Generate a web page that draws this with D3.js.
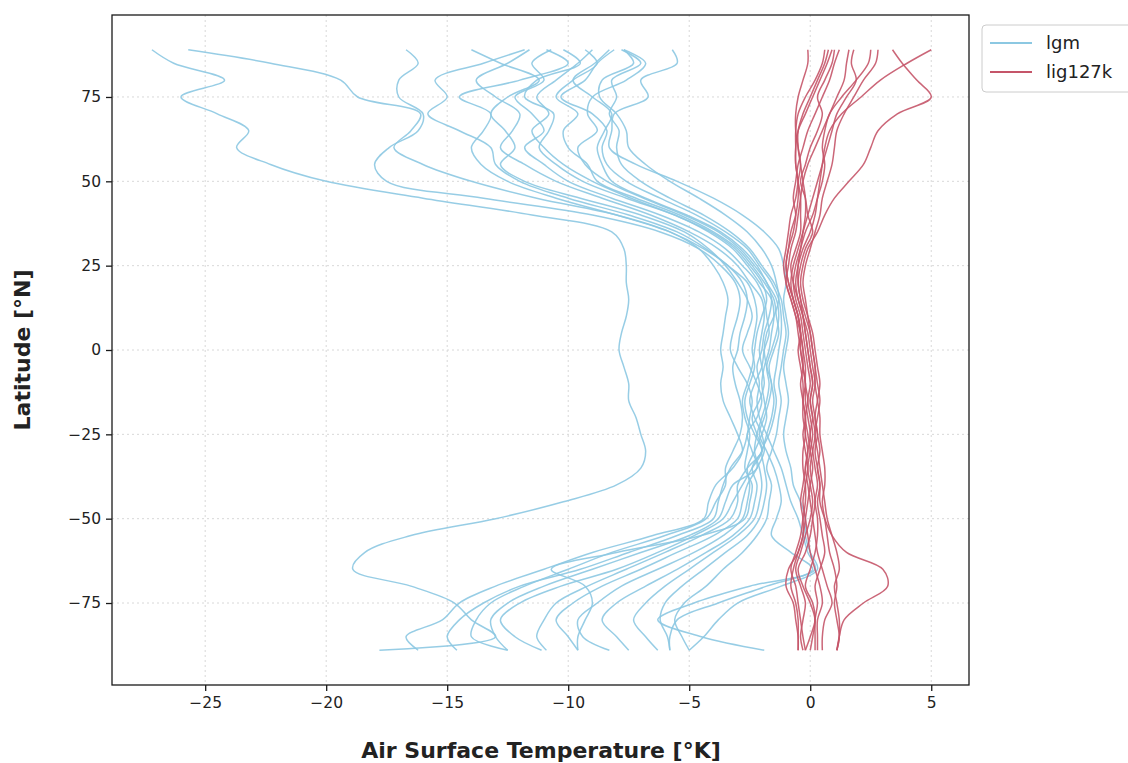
<!DOCTYPE html>
<html><head><meta charset="utf-8">
<script src="https://cdn.jsdelivr.net/npm/d3@7"></script>
<style>body{margin:0;background:#fff;} svg{display:block;font-family:"DejaVu Sans",sans-serif;}</style>
</head><body><svg id="chart" width="1128" height="763"></svg>
<script>
const latitudes = [89,85,80,75,70,65,60,55,50,45,40,35,30,25,20,15,10,5,0,-5,-10,-15,-20,-25,-30,-35,-40,-45,-50,-55,-60,-65,-70,-75,-80,-85,-89];

const lgm = [
 [-27.2,-26.3,-24.2,-26.0,-24.5,-23.2,-23.7,-22.3,-20.0,-16.0,-11.5,-8.2,-7.7,-7.6,-7.6,-7.5,-7.6,-7.8,-7.9,-7.7,-7.5,-7.5,-7.2,-7.0,-6.8,-7.0,-8.0,-10.2,-13.0,-16.5,-18.4,-18.9,-16.5,-14.7,-14.0,-13.0,-17.8],
 [-25.7,-22.3,-19.4,-18.7,-16.1,-16.5,-17.2,-16.0,-14.0,-11.3,-8.0,-5.8,-4.6,-4.0,-3.6,-3.4,-3.5,-3.6,-3.7,-3.6,-3.7,-3.6,-3.3,-3.0,-2.8,-3.2,-3.9,-4.2,-4.4,-6.5,-9.0,-11.0,-13.0,-14.5,-15.2,-16.7,-16.2],
 [-16.7,-16.2,-17.0,-17.0,-16.0,-16.2,-17.4,-18.0,-17.5,-13.5,-9.0,-6.2,-4.6,-3.7,-3.1,-2.9,-3.0,-3.2,-3.3,-3.0,-2.6,-2.4,-2.5,-2.6,-2.8,-3.3,-3.6,-3.8,-4.0,-5.5,-7.5,-9.5,-12.0,-13.5,-14.5,-15.0,-14.6],
 [-14.0,-12.8,-11.2,-12.5,-13.2,-12.6,-12.2,-12.8,-11.8,-9.5,-7.0,-5.2,-4.2,-3.5,-3.0,-2.6,-2.4,-2.6,-2.8,-2.5,-2.2,-2.0,-2.2,-2.6,-2.4,-2.2,-3.2,-3.5,-3.8,-5.0,-7.0,-9.0,-11.0,-12.5,-13.2,-13.0,-12.5],
 [-11.8,-13.5,-15.5,-15.0,-15.8,-14.5,-13.2,-13.0,-12.0,-10.0,-7.5,-5.5,-4.3,-3.4,-2.6,-2.3,-2.2,-2.3,-2.4,-2.3,-2.5,-2.7,-2.6,-2.3,-2.0,-2.4,-2.8,-3.2,-3.6,-4.8,-6.3,-8.0,-10.3,-12.0,-12.8,-12.2,-11.1],
 [-11.6,-12.5,-13.8,-13.0,-12.0,-12.3,-12.8,-11.8,-10.5,-8.6,-6.6,-5.0,-3.8,-3.0,-2.5,-2.0,-1.9,-2.0,-2.1,-2.0,-1.9,-2.1,-2.4,-2.2,-2.0,-2.6,-3.0,-3.0,-3.3,-4.5,-6.0,-7.6,-9.2,-10.5,-11.0,-11.3,-10.9],
 [-10.7,-11.5,-11.0,-12.2,-11.5,-11.0,-11.8,-11.0,-10.0,-8.2,-6.2,-4.6,-3.5,-2.8,-2.2,-1.9,-1.8,-1.7,-1.9,-2.0,-2.3,-2.5,-2.3,-2.0,-1.9,-2.2,-2.6,-2.8,-3.0,-4.0,-5.5,-7.0,-8.6,-9.8,-10.5,-10.0,-9.6],
 [-10.2,-9.5,-11.3,-11.8,-10.6,-10.8,-11.2,-10.5,-9.4,-7.6,-5.6,-4.2,-3.2,-2.6,-2.1,-1.6,-1.5,-1.6,-1.7,-1.9,-2.0,-1.9,-1.8,-2.0,-2.3,-2.6,-2.5,-2.6,-2.8,-3.6,-4.8,-6.3,-7.8,-8.8,-9.6,-9.4,-8.3],
 [-9.3,-8.8,-9.8,-10.5,-9.6,-10.2,-10.0,-9.2,-8.8,-7.2,-5.4,-4.0,-3.0,-2.4,-1.9,-1.5,-1.4,-1.3,-1.5,-1.7,-1.6,-1.5,-1.6,-1.8,-2.0,-2.4,-2.2,-2.3,-2.5,-3.2,-4.3,-5.5,-6.8,-8.0,-8.6,-8.0,-7.5],
 [-8.3,-8.9,-9.8,-9.0,-8.2,-8.5,-8.8,-8.6,-8.2,-6.8,-5.1,-3.7,-2.8,-2.2,-1.8,-1.4,-1.3,-1.4,-1.6,-1.8,-1.7,-1.8,-2.0,-2.2,-2.3,-2.1,-2.0,-2.1,-2.3,-3.0,-4.0,-5.0,-6.0,-6.8,-7.3,-6.8,-6.3],
 [-8.1,-8.8,-9.3,-10.3,-9.0,-8.4,-8.6,-8.4,-7.6,-6.2,-4.7,-3.5,-2.6,-2.1,-1.6,-1.3,-1.2,-1.2,-1.3,-1.4,-1.5,-1.4,-1.5,-1.7,-2.0,-1.9,-1.8,-1.9,-2.1,-2.6,-3.5,-4.4,-5.3,-6.0,-6.2,-5.9,-5.8],
 [-7.8,-7.0,-8.2,-8.0,-8.3,-7.9,-8.0,-7.8,-7.0,-5.8,-4.4,-3.3,-2.5,-2.0,-1.5,-1.2,-1.1,-1.0,-1.1,-1.2,-1.3,-1.2,-1.3,-1.4,-1.6,-1.8,-1.6,-1.7,-1.8,-2.2,-2.8,-3.6,-4.3,-5.2,-5.6,-5.3,-5.0],
 [-7.7,-6.8,-7.6,-9.0,-9.2,-8.8,-9.6,-9.3,-8.4,-6.9,-5.2,-3.8,-2.9,-2.3,-1.8,-1.6,-1.7,-1.9,-2.0,-2.2,-2.1,-2.2,-2.1,-1.8,-1.5,-1.2,-1.0,-0.8,-0.5,-0.3,-0.1,0.2,-2.5,-4.8,-6.3,-4.5,-1.9],
 [-5.7,-5.5,-7.0,-6.7,-8.1,-8.2,-8.3,-7.2,-5.5,-4.0,-2.8,-1.9,-1.3,-1.1,-1.0,-1.1,-1.0,-0.9,-1.0,-1.1,-1.0,-0.9,-1.0,-1.1,-1.0,-0.8,-0.7,-0.4,-0.2,-0.2,0.0,0.3,-1.2,-3.0,-3.8,-4.4,-5.0],
 [-10.9,-10.0,-12.0,-14.5,-13.2,-13.5,-14.0,-13.6,-12.5,-10.5,-8.0,-5.8,-4.4,-3.4,-2.8,-2.6,-2.7,-2.9,-3.0,-3.2,-3.1,-2.9,-2.8,-2.9,-3.2,-3.5,-3.5,-3.9,-4.3,-6.0,-8.2,-10.0,-11.8,-13.2,-13.8,-14.0,-12.5],
 [-9.0,-9.6,-10.5,-11.3,-10.8,-11.5,-11.0,-10.2,-9.0,-7.4,-5.6,-4.1,-3.1,-2.5,-2.0,-1.8,-2.0,-2.2,-2.3,-2.4,-2.6,-2.8,-2.7,-2.5,-2.6,-2.7,-2.4,-2.5,-2.7,-4.5,-8.0,-10.7,-9.3,-9.0,-9.3,-9.6,-9.6],
 [-7.7,-7.3,-8.6,-8.7,-8.0,-7.6,-7.5,-6.8,-5.8,-4.6,-3.5,-2.6,-2.0,-1.6,-1.4,-1.3,-1.5,-1.8,-1.9,-1.8,-1.6,-1.7,-1.9,-2.1,-1.8,-1.5,-1.3,-1.2,-1.4,-1.6,-0.8,0.1,-1.8,-3.8,-5.5,-5.8,-5.8]
];

const lig127k = [
 [5.0,4.0,2.9,2.1,1.3,0.8,0.6,0.5,0.4,0.3,0.2,0.0,-0.3,-0.5,-0.6,-0.5,-0.3,-0.2,-0.1,0.0,0.1,0.0,0.1,0.2,0.1,0.0,0.1,0.2,0.1,0.0,-0.2,-0.5,-0.3,0.0,0.2,0.1,0.0],
 [3.4,3.8,4.4,5.0,3.6,2.8,2.5,2.2,1.6,1.0,0.6,0.3,-0.1,-0.3,-0.4,-0.3,-0.1,0.1,0.2,0.3,0.4,0.3,0.2,0.3,0.4,0.3,0.4,0.4,0.6,0.9,1.5,3.0,3.2,2.2,1.4,1.2,1.1],
 [2.8,2.7,2.2,1.8,1.4,1.1,1.0,0.9,0.7,0.5,0.4,0.2,0.0,-0.2,-0.3,-0.2,-0.1,0.0,0.1,0.2,0.3,0.4,0.3,0.2,0.3,0.4,0.5,0.6,0.7,0.9,1.1,1.2,1.0,1.1,1.2,1.2,1.1],
 [2.5,2.4,1.9,1.3,0.8,0.6,0.5,0.6,0.5,0.3,0.1,-0.2,-0.4,-0.6,-0.7,-0.6,-0.4,-0.3,-0.2,-0.1,0.0,-0.1,0.0,0.1,0.0,-0.1,0.0,0.1,0.0,-0.2,-0.4,-0.6,-0.4,-0.2,-0.3,-0.4,-0.3],
 [1.8,1.7,1.9,1.5,1.1,0.9,0.7,0.5,0.3,0.1,-0.1,-0.3,-0.5,-0.7,-0.8,-0.7,-0.5,-0.4,-0.3,-0.2,-0.2,-0.1,-0.2,-0.1,0.0,0.1,0.0,-0.1,-0.2,-0.3,-0.5,-0.7,-0.8,-0.6,-0.5,-0.5,-0.5],
 [1.6,1.5,1.4,1.1,0.8,0.5,0.2,-0.1,-0.3,-0.4,-0.5,-0.6,-0.8,-0.9,-1.0,-0.8,-0.6,-0.4,-0.3,-0.3,-0.2,-0.3,-0.2,-0.3,-0.2,-0.1,-0.2,-0.3,-0.2,-0.1,0.0,0.2,0.4,0.5,0.3,0.3,0.3],
 [1.2,1.0,0.8,0.5,0.2,-0.1,-0.3,-0.5,-0.6,-0.7,-0.6,-0.7,-0.9,-1.0,-0.9,-0.7,-0.5,-0.4,-0.4,-0.3,-0.2,-0.2,-0.1,0.0,-0.1,-0.2,-0.1,0.0,0.1,0.2,0.3,0.5,0.7,0.9,0.6,0.5,0.5],
 [0.9,0.7,0.4,0.1,-0.2,-0.5,-0.6,-0.6,-0.5,-0.4,-0.4,-0.4,-0.6,-0.8,-0.7,-0.5,-0.3,-0.1,0.0,0.1,0.2,0.1,0.2,0.3,0.2,0.3,0.4,0.3,0.4,0.5,0.6,0.4,0.2,0.3,0.2,0.2,0.2],
 [0.75,0.6,0.3,0.0,-0.3,-0.5,-0.5,-0.4,-0.3,-0.2,-0.2,-0.3,-0.4,-0.5,-0.5,-0.4,-0.2,0.0,0.1,0.2,0.2,0.3,0.4,0.4,0.5,0.6,0.6,0.5,0.6,0.7,0.8,1.0,1.1,1.0,1.1,1.2,1.1],
 [0.6,0.5,0.2,-0.2,-0.5,-0.6,-0.6,-0.6,-0.5,-0.5,-0.6,-0.8,-0.9,-1.0,-0.9,-0.7,-0.5,-0.4,-0.5,-0.4,-0.3,-0.3,-0.3,-0.2,-0.3,-0.3,-0.2,-0.2,-0.3,-0.4,-0.6,-0.8,-0.6,-0.5,-0.4,-0.3,-0.2],
 [-0.1,-0.1,-0.3,-0.5,-0.6,-0.6,-0.5,-0.4,-0.5,-0.6,-0.8,-0.9,-1.0,-1.1,-1.0,-0.8,-0.6,-0.5,-0.4,-0.3,-0.4,-0.3,-0.2,-0.2,-0.1,-0.2,-0.3,-0.4,-0.3,-0.3,-0.5,-0.9,-1.0,-0.7,-0.6,-0.5,-0.5],
 [1.0,0.9,0.6,0.3,0.5,0.3,0.0,-0.2,-0.4,-0.2,-0.1,0.1,-0.2,-0.4,-0.5,-0.4,-0.3,-0.2,-0.1,0.0,0.1,0.0,0.1,0.0,0.1,0.2,0.3,0.2,0.3,0.3,0.2,0.0,-0.2,0.1,0.2,0.0,-0.2]
];

const xTicks = [-25,-20,-15,-10,-5,0,5];
const yTicks = [-75,-50,-25,0,25,50,75];
const seriesNames = ["lgm","lig127k"];
const seriesColors = ["#8cc8e2","#c55569"];

const plot = {left:112, right:969, top:15, bottom:685};
const svg = d3.select("#chart");
const x = d3.scaleLinear().domain([-28.85, 6.56]).range([plot.left, plot.right]);
const y = d3.scaleLinear().domain([-99.3, 99.3]).range([plot.bottom, plot.top]);

// grid
const grid = svg.append("g");
grid.selectAll("line.gx").data(xTicks).join("line")
  .attr("x1", d=>x(d)).attr("x2", d=>x(d)).attr("y1", plot.top).attr("y2", plot.bottom)
  .attr("stroke","#d8d8d8").attr("stroke-width",1).attr("stroke-dasharray","2,3");
grid.selectAll("line.gy").data(yTicks).join("line")
  .attr("y1", d=>y(d)).attr("y2", d=>y(d)).attr("x1", plot.left).attr("x2", plot.right)
  .attr("stroke","#d8d8d8").attr("stroke-width",1).attr("stroke-dasharray","2,3");

// lines
const lineGen = d3.line().x(d=>x(d[0])).y(d=>y(d[1])).curve(d3.curveCatmullRom.alpha(0.5));
function drawSet(set, color){
  svg.append("g").selectAll("path").data(set).join("path")
    .attr("d", vals => lineGen(vals.map((v,i)=>[v, latitudes[i]])))
    .attr("fill","none").attr("stroke",color).attr("stroke-width",1.5)
    .attr("stroke-opacity",0.9).attr("stroke-linejoin","round");
}
drawSet(lgm, seriesColors[0]);
drawSet(lig127k, seriesColors[1]);

// frame
svg.append("rect").attr("x",plot.left).attr("y",plot.top)
  .attr("width",plot.right-plot.left).attr("height",plot.bottom-plot.top)
  .attr("fill","none").attr("stroke","#1a1a1a").attr("stroke-width",1.3);

// axes
const fmt = d3.format("d");
const xAxis = svg.append("g").attr("transform",`translate(0,${plot.bottom})`)
  .call(d3.axisBottom(x).tickValues(xTicks).tickFormat(fmt).tickSize(6).tickPadding(6));
const yAxis = svg.append("g").attr("transform",`translate(${plot.left},0)`)
  .call(d3.axisLeft(y).tickValues(yTicks).tickFormat(fmt).tickSize(6).tickPadding(5));
[xAxis,yAxis].forEach(a=>{
  a.select(".domain").remove();
  a.selectAll(".tick line").attr("stroke","#1a1a1a").attr("stroke-width",1.3);
  a.selectAll(".tick text").attr("fill","#222").style("font-size","15.5px").style("font-family","DejaVu Sans");
});

// titles
svg.append("text").attr("x",541).attr("y",758).attr("text-anchor","middle")
  .style("font-size","22px").style("font-weight","bold").attr("fill","#222")
  .text("Air Surface Temperature [°K]");
svg.append("text").attr("transform","translate(30,350) rotate(-90)").attr("text-anchor","middle")
  .style("font-size","22px").style("font-weight","bold").attr("fill","#222")
  .text("Latitude [°N]");

// legend
const lg = svg.append("g");
lg.append("rect").attr("x",982).attr("y",25).attr("width",170).attr("height",67).attr("rx",4)
  .attr("fill","#fff").attr("stroke","#cccccc").attr("stroke-width",1);
seriesNames.forEach((n,i)=>{
  const yy = 43 + i*29;
  lg.append("line").attr("x1",990).attr("x2",1032).attr("y1",yy).attr("y2",yy)
    .attr("stroke",seriesColors[i]).attr("stroke-width",1.8);
  lg.append("text").attr("x",1046).attr("y",yy+6).style("font-size","18px").attr("fill","#222").text(n);
});
</script></body></html>
